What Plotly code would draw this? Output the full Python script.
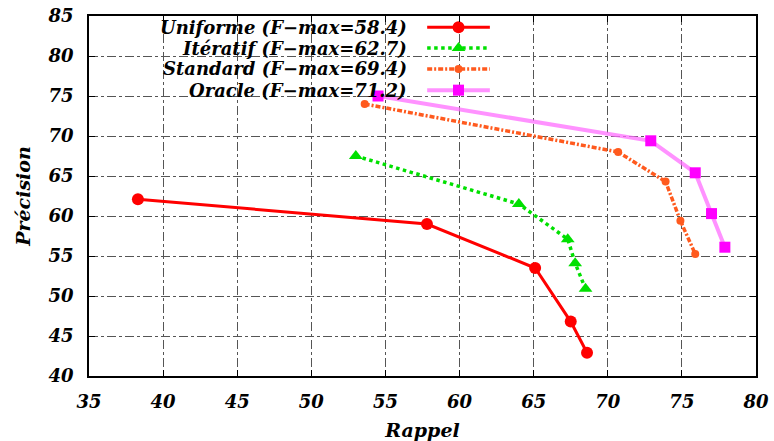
import plotly.graph_objects as go

# ---- data ----
series_names = ["Uniforme (F\u2212max=58.4)", "Itératif (F\u2212max=62.7)",
                "Standard (F\u2212max=69.4)", "Oracle (F\u2212max=71.2)"]
rappel_uniforme = [38.3, 57.8, 65.1, 67.5, 68.6]
precision_uniforme = [62.1, 59.0, 53.5, 46.8, 42.9]
rappel_iteratif = [53.0, 64.0, 67.3, 67.8, 68.5]
precision_iteratif = [67.5, 61.5, 57.1, 54.1, 50.9]
rappel_standard = [53.6, 70.7, 73.9, 74.9, 75.9]
precision_standard = [74.0, 68.0, 64.3, 59.4, 55.25]
rappel_oracle = [54.5, 72.9, 75.9, 77.0, 77.9]
precision_oracle = [75.0, 69.4, 65.4, 60.3, 56.1]
x_ticks = [35, 40, 45, 50, 55, 60, 65, 70, 75, 80]
y_ticks = [40, 45, 50, 55, 60, 65, 70, 75, 80, 85]

FONT = "DejaVu Serif"
styles = [
    dict(line=dict(color="#ff0000", width=3, dash="solid"),
         marker=dict(symbol="circle", size=12, color="#ff0000")),
    dict(line=dict(color="#00e000", width=3.5, dash="dot"),
         marker=dict(symbol="triangle-up", size=12, color="#00e000")),
    dict(line=dict(color="#ff5a1e", width=3.5, dash="5px,2px,2px,2px"),
         marker=dict(symbol="circle", size=8, color="#ff5a1e")),
    dict(line=dict(color="rgba(255,110,255,0.75)", width=4, dash="solid"),
         marker=dict(symbol="square", size=11, color="#ff00ff")),
]
xs = [rappel_uniforme, rappel_iteratif, rappel_standard, rappel_oracle]
ys = [precision_uniforme, precision_iteratif, precision_standard, precision_oracle]

fig = go.Figure()
for name, x, y, st in zip(series_names, xs, ys, styles):
    fig.add_trace(go.Scatter(x=x, y=y, mode="lines+markers", name=name,
                             line=st["line"], marker=st["marker"],
                             showlegend=False))

# ---- gnuplot-style legend (text right, sample to the right) ----
leg_rows = [0.969, 0.911, 0.853, 0.794]
leg_text_x = 0.478
leg_line_x = [0.507, 0.601]
leg_mark_x = 0.554
for name, yrow, st in zip(series_names, leg_rows, styles):
    fig.add_trace(go.Scatter(x=leg_line_x, y=[yrow, yrow], mode="lines",
                             line=st["line"], xaxis="x2", yaxis="y2",
                             showlegend=False, hoverinfo="skip"))
    fig.add_trace(go.Scatter(x=[leg_mark_x], y=[yrow], mode="markers",
                             marker=st["marker"], xaxis="x2", yaxis="y2",
                             showlegend=False, hoverinfo="skip"))
    fig.add_annotation(text=name, x=leg_text_x, y=yrow, xref="x2", yref="y2",
                       xanchor="right", yanchor="middle", showarrow=False,
                       borderpad=0,
                       font=dict(family=FONT, size=18, color="black",
                                 weight="bold", style="italic"))

tickfont = dict(family=FONT, size=18, color="black", weight="bold", style="italic")
titlefont = dict(family=FONT, size=19, color="black", weight="bold", style="italic")
axis_common = dict(showline=True, linecolor="black", linewidth=1.5, mirror="ticks",
                   ticks="inside", ticklen=6, tickcolor="black",
                   showgrid=True, gridcolor="#555555", gridwidth=1, griddash="dashdot",
                   zeroline=False, tickfont=tickfont, automargin=False)

fig.update_layout(
    width=774, height=441,
    margin=dict(l=89, r=18, t=16, b=65),
    paper_bgcolor="white", plot_bgcolor="white",
    xaxis=dict(range=[35, 80], tickvals=x_ticks,
               title=dict(text="Rappel", font=titlefont, standoff=14),
               ticklabelstandoff=9, **axis_common),
    yaxis=dict(range=[40, 85], tickvals=y_ticks,
               title=dict(text="Précision", font=titlefont, standoff=12),
               ticklabelstandoff=10, **axis_common),
    xaxis2=dict(range=[0, 1], overlaying="x", visible=False, fixedrange=True),
    yaxis2=dict(range=[0, 1], overlaying="y", visible=False, fixedrange=True),
)

fig.write_html("out.html")
